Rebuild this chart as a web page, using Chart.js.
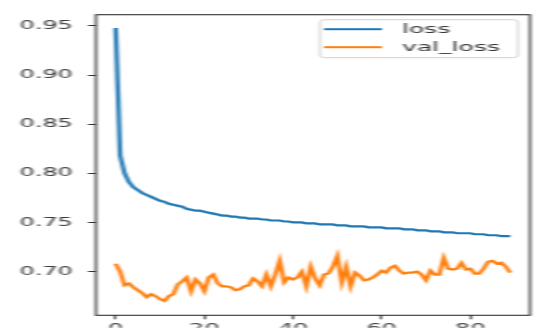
<!DOCTYPE html>
<html>
<head>
<meta charset="utf-8">
<script src="https://cdn.jsdelivr.net/npm/chart.js@4/dist/chart.umd.min.js"></script>
<style>
    html, body { margin: 0; padding: 0; background: #fff; overflow: hidden; }
    /* figure is drawn narrow and stretched sideways, slightly soft */
    #wrap { width: 270px; height: 330px; transform: scaleX(2); transform-origin: 0 0; filter: blur(0.45px); }
</style>
</head>
<body>
<div id="wrap"><canvas id="lossChart"></canvas></div>
<script>
var loss = [
    0.948, 0.818, 0.800, 0.791, 0.786, 0.783, 0.780, 0.778, 0.776, 0.774,
    0.772, 0.771, 0.769, 0.768, 0.767, 0.766, 0.764, 0.763, 0.762, 0.762,
    0.761, 0.760, 0.759, 0.758, 0.757, 0.757, 0.756, 0.756, 0.755, 0.755,
    0.754, 0.754, 0.754, 0.753, 0.753, 0.752, 0.752, 0.752, 0.751, 0.751,
    0.750, 0.750, 0.750, 0.749, 0.749, 0.749, 0.748, 0.748, 0.748, 0.748,
    0.747, 0.747, 0.747, 0.746, 0.746, 0.746, 0.746, 0.745, 0.745, 0.745,
    0.745, 0.744, 0.744, 0.744, 0.744, 0.743, 0.743, 0.743, 0.742, 0.742,
    0.742, 0.741, 0.741, 0.741, 0.740, 0.740, 0.740, 0.739, 0.739, 0.739,
    0.739, 0.738, 0.738, 0.738, 0.737, 0.737, 0.737, 0.736, 0.736, 0.736
];
var valLoss = [
    0.708, 0.700, 0.686, 0.688, 0.684, 0.681, 0.678, 0.674, 0.677, 0.675,
    0.672, 0.670, 0.675, 0.677, 0.687, 0.690, 0.694, 0.680, 0.692, 0.688,
    0.680, 0.694, 0.697, 0.688, 0.685, 0.685, 0.684, 0.681, 0.682, 0.685,
    0.686, 0.693, 0.690, 0.685, 0.697, 0.685, 0.697, 0.711, 0.689, 0.694,
    0.692, 0.694, 0.700, 0.685, 0.705, 0.693, 0.686, 0.697, 0.698, 0.705,
    0.716, 0.689, 0.705, 0.685, 0.699, 0.696, 0.691, 0.692, 0.694, 0.697,
    0.701, 0.699, 0.704, 0.706, 0.701, 0.698, 0.699, 0.699, 0.700, 0.697,
    0.691, 0.701, 0.697, 0.697, 0.714, 0.703, 0.702, 0.703, 0.709, 0.702,
    0.703, 0.698, 0.698, 0.703, 0.710, 0.711, 0.708, 0.709, 0.705, 0.699
];
var seriesNames = ['loss', 'val_loss'];
var xTicks = [0, 20, 40, 60, 80];
var yTicks = [0.70, 0.75, 0.80, 0.85, 0.90, 0.95];

var tickFont = { family: 'DejaVu Sans', size: 12 };
var tickColor = '#3a3a3a';

function toPoints(values) {
    return values.map(function (v, i) {
        return { x: i, y: v };
    });
}

function fixedTicks(values) {
    return function (scale) {
        scale.ticks = values.map(function (v) { return { value: v }; });
    };
}

// box around the plot area (all four spines)
var framePlugin = {
    id: 'frame',
    afterDatasetsDraw: function (chart) {
        var a = chart.chartArea;
        var ctx = chart.ctx;
        ctx.save();
        ctx.strokeStyle = '#333';
        ctx.lineWidth = 1.1;
        ctx.strokeRect(a.left, a.top, a.right - a.left, a.bottom - a.top);
        ctx.restore();
    }
};

// legend in the upper right corner of the plot
var boxLegendPlugin = {
    id: 'boxLegend',
    afterDraw: function (chart) {
        var a = chart.chartArea;
        var ctx = chart.ctx;
        var right = a.right - 6, top = a.top + 5;
        var left = right - 99, rowH = 18;
        var sets = chart.data.datasets;

        ctx.save();
        ctx.fillStyle = 'rgba(255,255,255,0.8)';
        ctx.strokeStyle = '#d0d0d0';
        ctx.lineWidth = 1;
        ctx.beginPath();
        ctx.roundRect(left, top, right - left, 38, 2.5);
        ctx.fill();
        ctx.stroke();

        ctx.font = '12.5px "DejaVu Sans"';
        ctx.textBaseline = 'middle';
        ctx.textAlign = 'left';
        for (var i = 0; i < sets.length; i++) {
            var y = top + 9.5 + i * rowH;
            ctx.strokeStyle = sets[i].borderColor;
            ctx.lineWidth = 2;
            ctx.beginPath();
            ctx.moveTo(left + 2, y);
            ctx.lineTo(left + 31, y);
            ctx.stroke();
            ctx.fillStyle = '#333';
            ctx.fillText(sets[i].label, left + 41, y + 0.5);
        }
        ctx.restore();
    }
};

var ctx = document.getElementById('lossChart');
var chart = new Chart(ctx, {
    type: 'line',
    data: {
        datasets: [{
            label: seriesNames[0],
            data: toPoints(loss),
            borderColor: '#1f77b4',
            borderWidth: 2.2,
            pointRadius: 0,
            tension: 0,
            fill: false
        }, {
            label: seriesNames[1],
            data: toPoints(valLoss),
            borderColor: '#ff7f0e',
            borderWidth: 2.2,
            pointRadius: 0,
            tension: 0,
            fill: false
        }]
    },
    options: {
        responsive: true,
        maintainAspectRatio: false,
        animation: false,
        layout: {
            padding: { left: 0, right: 5, top: 10, bottom: 0 }
        },
        plugins: {
            legend: { display: false },
            tooltip: { enabled: false }
        },
        scales: {
            x: {
                type: 'linear',
                min: -4.45,
                max: 93.45,
                afterBuildTicks: fixedTicks(xTicks),
                afterFit: function (scale) { scale.height = 12.5; },
                grid: { drawOnChartArea: false, tickLength: 4, color: '#333', tickWidth: 1 },
                border: { display: false },
                ticks: {
                    font: tickFont,
                    color: tickColor,
                    padding: 2,
                    maxRotation: 0,
                    autoSkip: false,
                    callback: function (value) { return value.toString(); }
                }
            },
            y: {
                min: 0.6555,
                max: 0.9615,
                afterBuildTicks: fixedTicks(yTicks),
                afterFit: function (scale) { scale.width = 48; },
                grid: { drawOnChartArea: false, tickLength: 4, color: '#333', tickWidth: 1 },
                border: { display: false },
                ticks: {
                    font: tickFont,
                    color: tickColor,
                    padding: 7.5,
                    autoSkip: false,
                    callback: function (value) { return value.toFixed(2); }
                }
            }
        }
    },
    plugins: [framePlugin, boxLegendPlugin]
});
</script>
</body>
</html>
